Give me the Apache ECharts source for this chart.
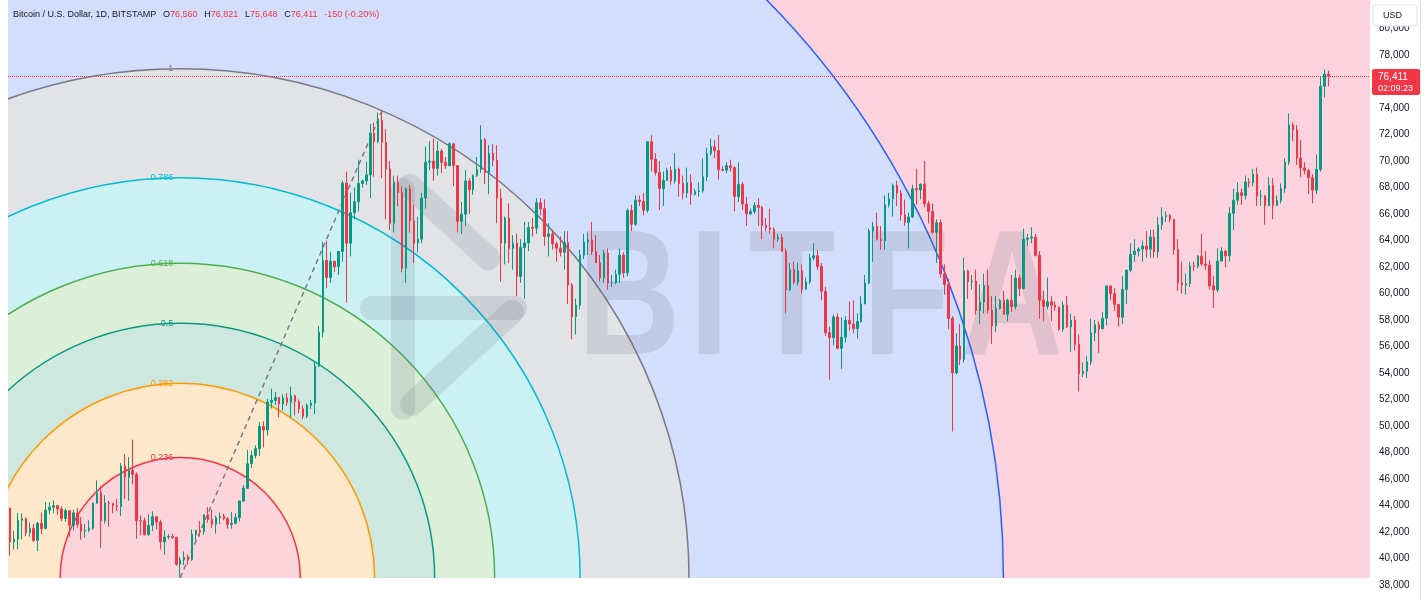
<!DOCTYPE html>
<html><head><meta charset="utf-8">
<script src="https://cdn.jsdelivr.net/npm/echarts@6/dist/echarts.min.js"></script>
<style>html,body{margin:0;padding:0;background:#fff}#c{width:1428px;height:600px}</style>
</head><body><div id="c"></div>
<script>
// Daily candles, each row [open, high, low, close]
const dec23 = [[43790,43840,40220,41240],[41240,42100,40680,41460],[41460,43430,40690,42880],[42880,43420,41450,43020],[43020,43090,41680,41940],[41940,42720,41650,42270],[42270,42590,41260,41370],[41370,42760,40560,42660],[42660,43480,41840,42260],[42260,44280,42210,43650],[43650,44250,43330,43870],[43870,44380,43420,43990],[43990,44020,43290,43740],[43740,43940,42820,43020],[43020,43770,42760,43610],[43610,43620,41650,42520],[42520,43680,42120,43440],[43440,43800,42320,42580],[42580,43120,41430,42070],[42070,42600,41560,42140],[42140,42880,41990,42280]];
const jan24 = [[42280,44200,42180,44180],[44180,45900,44150,44960],[44960,45500,40800,42850],[42850,44770,42640,44180],[44180,44340,42400,44160],[44160,44200,43420,43970],[43970,44480,43580,43930],[43930,47200,43200,46970],[46970,47890,44500,46120],[46120,47650,44350,46660],[46660,48970,45600,46350],[46350,46500,41500,42850],[42850,43240,41750,42840],[42840,43080,41720,41800],[41800,43340,41720,42510],[42510,43560,42060,43150],[43150,43190,42200,42740],[42740,42920,40680,41260],[41260,42130,40280,41620],[41620,41850,41450,41660],[41660,41870,41500,41580],[41580,41650,39450,39570],[39570,40120,38555,39890],[39890,40530,39500,40080],[40080,40300,39520,39930],[39930,42200,39820,41820],[41820,42180,41400,42120],[42120,42820,41650,42030],[42030,43300,41800,43300],[43300,43880,42700,42940],[42940,43700,42300,42580]];
const feb24 = [[42580,43250,41880,43080],[43080,43480,42580,43190],[43190,43380,42880,43000],[43000,43120,42250,42580],[42580,43500,42260,42660],[42660,43400,42570,43090],[43090,44380,42780,44330],[44330,45560,44330,45300],[45300,48200,45250,47150],[47150,48170,46830,47770],[47770,48550,47550,48290],[48290,50300,47730,49960],[49960,50350,48380,49700],[49700,52040,49280,51800],[51800,52820,51330,51930],[51930,52570,51600,52160],[52160,52200,50650,51660],[51660,52380,51180,52120],[52120,52490,51520,51780],[51780,52950,50650,52280],[52280,52380,50800,51840],[51840,52000,50970,51300],[51300,51550,50520,50730],[50730,51700,50580,51570],[51570,51950,51290,51730],[51730,54900,50900,54520],[54520,57550,54460,57080],[57080,63900,56700,62500],[62500,64000,60400,61200]];
const mar24 = [[61200,63150,60800,62440],[62440,62430,61600,62030],[62030,63200,61400,63170],[63170,68500,62400,68330],[68330,69200,59300,63800],[63800,67600,62800,66100],[66100,68000,65600,66930],[66930,70100,66200,68300],[68300,68600,68000,68500],[68500,69950,68200,68950],[68950,72800,67200,72120],[72120,72900,68800,71480],[71480,73650,71350,73080],[73080,73800,68700,71400],[71400,72400,65600,69400],[69400,70000,64800,65300],[65300,68900,64600,68400],[68400,68900,66600,67600],[67600,68100,61600,61900],[61900,68000,60800,67900],[67900,68200,64600,65500],[65500,66700,62300,63800],[63800,65800,63100,64100],[64100,67600,63800,67200],[67200,71100,66400,69900],[69900,71500,69300,69990],[69990,71700,68500,69450],[69450,71500,68900,70750],[70750,70900,69100,69900],[69900,70300,69400,69650],[69650,71400,69600,71300]];
const apr24 = [[71300,71300,68100,69650],[69650,69650,64600,65450],[65450,66900,64500,65980],[65980,69300,65100,68500],[68500,68700,66000,67830],[67830,69000,67450,68900],[68900,70300,68800,69360],[69360,72700,69100,71620],[71620,71750,68250,69140],[69140,71200,67500,70580],[70580,71300,69600,70060],[70060,71200,65300,67200],[67200,67900,60900,63800],[63800,65800,62200,65700],[65700,66800,62300,63400],[63400,64400,61800,63800],[63800,64500,59800,61280],[61280,64100,60800,63470],[63470,65400,59600,63820],[63820,65400,63200,64990],[64990,65700,64300,64930],[64930,67200,64500,66840],[66840,67200,65900,66400],[66400,67100,63600,64300],[64300,65300,62800,64500],[64500,64800,63300,63760],[63760,63900,62400,63420],[63420,64300,62800,63110],[63110,64700,61800,63840],[63840,64700,59200,60640]];
const may24 = [[60640,60800,56550,58250],[58250,59600,56900,59120],[59120,63300,58800,62890],[62890,64500,62600,63890],[63890,64600,62900,64030],[64030,65400,62900,63160],[63160,64400,62300,62330],[62330,62900,60900,61190],[61190,63300,60800,63050],[63050,63400,60300,60790],[60790,61400,60500,60800],[60800,61800,60700,61460],[61460,63400,60800,62900],[62900,63100,61200,61550],[61550,66400,61300,66270],[66270,66700,64700,65230],[65230,67400,65100,67050],[67050,67400,66600,66940],[66940,67600,65900,66280],[66280,71500,66100,71450],[71450,71950,69200,70140],[70140,70600,68900,69120],[69120,70000,66300,67930],[67930,69200,66600,68530],[68530,69500,68500,69280],[69280,69600,68200,68500],[68500,70600,68300,69390],[69390,69500,67300,68300],[68300,68900,67100,67580],[67580,69500,67200,68360],[68360,69000,66700,67490]];
const jun24 = [[67490,67900,67400,67700],[67700,68400,67300,67750],[67750,70200,67600,68800],[68800,71000,68500,70560],[70560,71700,70400,71080],[71080,71600,70200,70790],[70790,71950,68600,69350],[69350,69600,69200,69310],[69310,69900,69100,69650],[69650,70100,69200,69500],[69500,69600,66200,67320],[67320,69900,66900,68240],[68240,68400,66300,66750],[66750,67300,65100,66010],[66010,66400,65900,66190],[66190,66900,66000,66640],[66640,67200,65100,66490],[66490,66600,64100,65140],[65140,65700,64700,64960],[64960,66400,64500,64830],[64830,65000,63400,64100],[64100,64500,63900,64250],[64250,64500,63200,63180],[63180,63400,58500,60280],[60280,62300,60200,61800],[61800,62400,60700,60860],[60860,62300,60600,61700],[61700,62200,60000,60320],[60320,61200,60300,60880],[60880,63000,60700,62680]];
const jul24 = [[62680,63800,62500,62850],[62850,63300,61800,62030],[62030,62300,59500,60170],[60170,60500,56800,57040],[57040,57500,53500,56660],[56660,58400,56100,58230],[58230,58500,55800,55860],[55860,58200,54300,56700],[56700,58300,56300,57980],[57980,59400,57200,57700],[57700,59500,57000,57350],[57350,58500,56600,57880],[57880,59800,57800,59210],[59210,61400,59200,60790],[60790,64900,60700,64710],[64710,65400,62400,65050],[65050,66100,64000,64090],[64090,65100,63300,63990],[63990,67400,63300,66690],[66690,67600,66500,67150],[67150,68300,65800,68160],[68160,68500,66600,67580],[67580,67800,65500,65930],[65930,67100,65100,65370],[65370,66100,63400,65780],[65780,68200,65700,67910],[67910,69400,66700,67810],[67810,68300,67100,68250],[68250,70000,66500,66780],[66780,67000,65300,66190],[66190,66800,64500,64620]];
const aug24 = [[64620,65600,62300,65350],[65350,65600,61200,61480],[61480,62200,59900,60680],[60680,61100,57300,58120],[58120,58300,49577,54020],[54020,57000,53900,56040],[56040,57700,54600,55030],[55030,62700,54800,61710],[61710,61800,59600,60880],[60880,61400,60300,60940],[60940,61800,58400,58710],[58710,60700,57700,59350],[59350,61500,58500,60600],[60600,61800,58500,58740],[58740,59800,56200,57560],[57560,59800,57100,58870],[58870,59600,58800,59480],[59480,60200,58400,58430],[58430,59600,57900,59490],[59490,61400,58600,59010],[59010,61800,58800,61170],[61170,61400,59800,60380],[60380,64900,60300,64100],[64100,64500,63600,64180],[64180,65000,63800,64250],[64250,64500,62800,62880],[62880,63200,58100,59500],[59500,60200,57900,59030],[59030,61200,58800,59370],[59370,59800,57900,59120],[59120,59400,58700,58970]];
const sep24 = [[58970,59000,57200,57300],[57300,59400,57100,59120],[59120,59800,57400,57480],[57480,58500,55600,57970],[57970,58300,55700,56160],[56160,56900,52600,53960],[53960,54800,53700,54140],[54140,55300,53600,54840],[54840,58100,54600,57020],[57020,58000,56400,57650],[57650,57900,55500,57340],[57340,58600,57300,58130],[58130,60600,57600,60570],[60570,60600,59500,60000],[60000,60400,58700,59180],[59180,59200,57500,58210],[58210,61300,57700,60310],[60310,61800,59200,61760],[61760,63800,61600,62950],[62950,64100,62400,63200],[63200,63500,62800,63350],[63350,64000,62400,63580],[63580,64700,62700,63340],[63340,64800,62700,64260],[64260,64800,62700,63140],[63140,65800,62700,65180],[65180,66500,64800,65790],[65790,66200,65400,65880],[65880,66000,65400,65600],[65600,65600,62900,63330]];
const oct24 = [[63330,64100,60200,60800],[60800,62400,60000,60650],[60650,61500,59900,60750],[60750,62400,60500,62090],[62090,62400,61700,62050],[62050,62900,61900,62820],[62820,64500,62100,62220],[62220,63200,61800,62130],[62130,62500,60300,60580],[60580,61300,58900,60270],[60270,63400,60100,62450],[62450,63500,62400,63190],[63190,63300,62000,62850],[62850,66500,62400,66050],[66050,67900,64800,67040],[67040,68400,66700,67610],[67610,67900,66700,67400],[67400,68900,67100,68420],[68420,68700,68000,68360],[68360,69400,68100,69000],[69000,69500,66600,67370],[67370,67800,66600,67370],[67370,67400,65200,66640],[66640,68800,66600,68160],[68160,68700,65600,66640],[66640,67400,66600,67010],[67010,68300,66800,67930],[67930,70200,67600,69910],[69910,73600,69700,72720],[72720,72900,71500,72340],[72340,72700,69700,70220]];
const nov24 = [[70220,71600,68800,69480],[69480,69900,69000,69290],[69290,69400,67500,68740],[68740,69000,66800,67800],[67800,70500,67500,69360],[69360,76400,69200,75640],[75640,76900,74800,76560],[76560,76821,75648,76411]];

const monthBlocks = [['Dec',11,dec23],['Jan',1,jan24],['Feb',1,feb24],['Mar',1,mar24],['Apr',1,apr24],['May',1,may24],['Jun',1,jun24],['Jul',1,jul24],['Aug',1,aug24],['Sep',1,sep24],['Oct',1,oct24],['Nov',1,nov24]];
const rightPadBars = 10;

// Fibonacci circles anchored on the Jan 23 low and the Mar 14 high
const fibStart = ['Jan 23', 38555];
const fibEnd = ['Mar 14', 73800];
const fibLevels = [0.236, 0.382, 0.5, 0.618, 0.786, 1, 1.618, 2.618];
const fibLineColors = ['#f23645','#ff9800','#089981','#4caf50','#00bcd4','#787b86','#2962ff','#f23645'];
const fibFillColors = ['#fbd5db','#fde8cc','#cee8e0','#dcefd9','#ccf1f4','#e2e3e7','#d3ddfc','#fbd2de'];

const yTicksMin = 38000, yTicksMaxLabel = 80000, yTickStep = 2000;
const headerText = ['Bitcoin / U.S. Dollar, 1D, BITSTAMP', '-150 (-0.20%)'];
const countdownText = '02:09:23';

const categories = [];
const candles = [];
monthBlocks.forEach(([m, d0, rows]) => rows.forEach((r, i) => {
  categories.push(m + ' ' + (d0 + i));
  candles.push([r[0], r[3], r[2], r[1]]);
}));
for (let i = 0; i < rightPadBars; i++) categories.push('');
const last = nov24[nov24.length - 1];
const fmt = v => v.toLocaleString('en-US');

const UP = '#089981', DOWN = '#f23645';
const FONT = 'Liberation Sans, Arial, sans-serif';
const chart = echarts.init(document.getElementById('c'), null, {renderer: 'canvas'});

const gridH = 585;
chart.setOption({
  animation: false,
  backgroundColor: '#ffffff',
  grid: {left: 8, right: 58, top: 0, bottom: 15, show: true, backgroundColor: '#fbd2de', borderWidth: 0},
  xAxis: {type: 'category', data: categories, boundaryGap: true, show: false},
  yAxis: {
    type: 'value', position: 'right', min: yTicksMin, max: yTicksMin + gridH / 0.01325, interval: yTickStep,
    axisLine: {show: false}, axisTick: {show: false}, splitLine: {show: false},
    axisLabel: {color: '#131722', fontSize: 10, fontFamily: FONT, margin: 9, showMaxLabel: false,
      formatter: v => (v > yTicksMaxLabel || v % yTickStep) ? '' : fmt(v)}
  },
  series: [
    {
      type: 'custom', z: 1, clip: true, silent: true,
      data: [[categories.indexOf(fibStart[0]), fibStart[1], categories.indexOf(fibEnd[0]), fibEnd[1]]],
      encode: {x: [0, 2], y: [1, 3]},
      renderItem: (params, api) => {
        const c = api.coord([api.value(0), api.value(1)]);
        const e = api.coord([api.value(2), api.value(3)]);
        const R = Math.hypot(e[0] - c[0], e[1] - c[1]);
        const ch = [];
        for (let k = fibLevels.length - 1; k >= 0; k--) {
          ch.push({type: 'circle', shape: {cx: c[0], cy: c[1], r: fibLevels[k] * R}, style: {fill: fibFillColors[k]}});
        }
        for (let k = 0; k < fibLevels.length; k++) {
          ch.push({type: 'circle', shape: {cx: c[0], cy: c[1], r: fibLevels[k] * R}, style: {fill: 'none', stroke: fibLineColors[k], lineWidth: 1.5}});
        }
        ch.push({type: 'line', shape: {x1: c[0], y1: c[1], x2: e[0], y2: e[1]}, style: {stroke: '#787b86', lineWidth: 1.5, lineDash: [5, 4]}});
        for (let k = 0; k < fibLevels.length; k++) {
          ch.push({type: 'text', style: {text: String(fibLevels[k]), x: c[0] - 7, y: c[1] - fibLevels[k] * R, align: 'right', verticalAlign: 'middle', fill: fibLineColors[k], fontSize: 9, fontFamily: FONT}});
        }
        return {type: 'group', children: ch};
      }
    },
    {
      type: 'candlestick', z: 5, data: candles, barWidth: 2,
      itemStyle: {color: UP, color0: DOWN, borderColor: UP, borderColor0: DOWN, borderWidth: 1},
      markLine: {symbol: 'none', silent: true, label: {show: false}, animation: false,
        lineStyle: {color: DOWN, type: 'dotted', width: 1}, data: [{yAxis: last[3]}]}
    }
  ]
});

const tagY = chart.convertToPixel({yAxisIndex: 0}, last[3]);
const wm = 'rgba(95,105,125,0.16)';
const letters = [['B', 629], ['I', 709], ['T', 792], ['F', 906], ['A', 1012]];
const g = [];
letters.forEach(([t, x]) => g.push({type: 'text', x: x, y: 305, z: 3, scaleX: 0.8, silent: true,
  style: {text: t, fontSize: 178, fontWeight: 'bold', fontFamily: FONT, fill: wm, align: 'center', verticalAlign: 'middle'}}));
[[[403,190],[403,408]], [[410,186],[488,258]], [[372,308],[515,308]], [[412,404],[512,312]]].forEach(p =>
  g.push({type: 'polyline', z: 3, silent: true, shape: {points: p}, style: {stroke: wm, lineWidth: 24, lineCap: 'round', fill: 'none'}}));
g.push({type: 'rect', z: 20, silent: true, shape: {x: 0, y: 578, width: 1370, height: 22}, style: {fill: '#ffffff'}});
g.push({type: 'line', z: 20, silent: true, shape: {x1: 1420.5, y1: 0, x2: 1420.5, y2: 600}, style: {stroke: '#e0e3eb', lineWidth: 1}});
g.push({type: 'rect', z: 20, silent: true, shape: {x: 1373, y: 5, width: 44, height: 21, r: 3}, style: {fill: '#ffffff', stroke: '#e0e3eb', lineWidth: 1}});
g.push({type: 'text', z: 21, silent: true, style: {text: 'USD', x: 1383, y: 16, fontSize: 9, fontFamily: FONT, fill: '#131722', verticalAlign: 'middle'}});
g.push({type: 'rect', z: 20, silent: true, shape: {x: 1372, y: tagY - 7, width: 48, height: 26, r: 2}, style: {fill: DOWN}});
g.push({type: 'text', z: 21, silent: true, style: {text: fmt(last[3]), x: 1378, y: tagY + 1, fontSize: 10, fontFamily: FONT, fill: '#ffffff', verticalAlign: 'middle'}});
g.push({type: 'text', z: 21, silent: true, style: {text: countdownText, x: 1378, y: tagY + 12, fontSize: 9, fontFamily: FONT, fill: '#ffffff', verticalAlign: 'middle'}});
g.push({type: 'text', z: 21, silent: true, style: {
  x: 13, y: 15, verticalAlign: 'middle',
  text: '{t|' + headerText[0] + '}  {t|O}{v|' + fmt(last[0]) + '}  {t|H}{v|' + fmt(last[1]) + '}  {t|L}{v|' + fmt(last[2]) + '}  {t|C}{v|' + fmt(last[3]) + '}  {v|' + headerText[1] + '}',
  rich: {t: {fill: '#131722', fontSize: 9, fontFamily: FONT}, v: {fill: DOWN, fontSize: 9, fontFamily: FONT}}
}});
chart.setOption({graphic: g});
</script>
</body></html>
